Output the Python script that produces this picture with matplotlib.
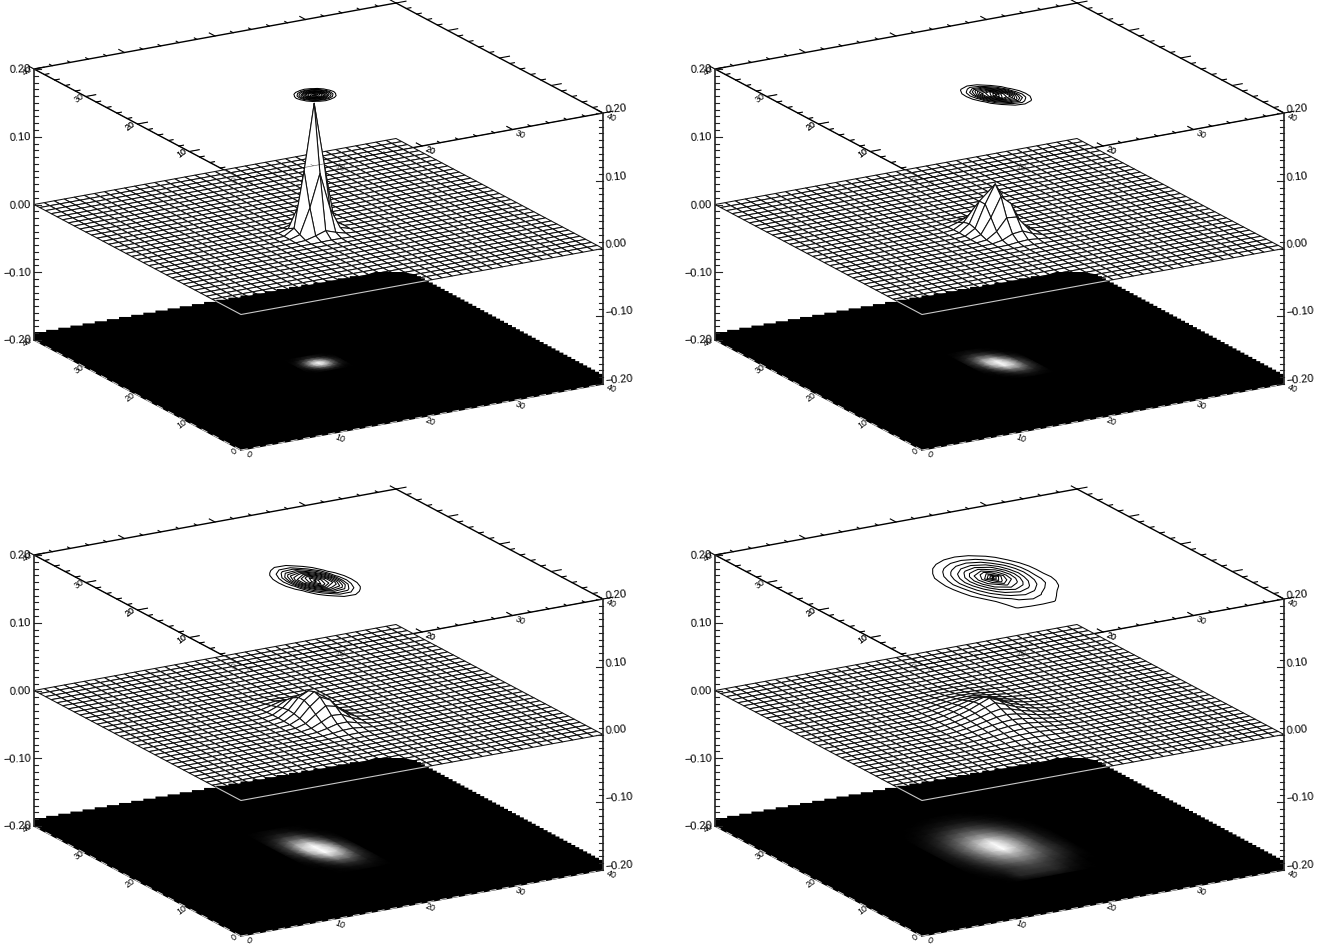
#!/usr/bin/env python3
import numpy as np
import matplotlib
matplotlib.use("Agg")
import matplotlib.pyplot as plt
from matplotlib.collections import PolyCollection
from matplotlib.patches import Polygon

plt.rcParams['font.family'] = ['Liberation Sans', 'DejaVu Sans']

# axis values
z_major = [-0.20, -0.10, 0.00, 0.10, 0.20]
z_major_labels = ['\u22120.20', '\u22120.10', '0.00', '0.10', '0.20']
xy_major = [0, 10, 20, 30, 40]
xy_major_labels = ['0', '10', '20', '30', '40']
contour_levels = [10, 18, 26, 34, 42, 50, 58, 66, 74, 82, 90, 98]
image_vmax = [100, 90, 85, 78]

# surface heights (0.001 units), top row is the largest y, columns go up in x
mesh_p1 = [[0, 0, 0.5, 0.7, 0.5, 0, 0],
           [0, 1, 5, 10, 5, 1, 0],
           [0.5, 5, 36, 96, 40, 5, 0.5],
           [0.7, 10, 92, 189, 96, 10, 0.7],
           [0.5, 5, 42, 90, 36, 5, 0.5],
           [0, 1, 5, 10, 5, 1, 0],
           [0, 0, 0.5, 0.7, 0.5, 0, 0]]

mesh_p2 = [[0.1, 0.4, 0.5, 0.3, 0.1, 0, 0],
           [0.3, 1.7, 3.1, 2.1, 0.5, 0.1, 0],
           [0.8, 5, 11.4, 9.7, 3.1, 0.4, 0],
           [1.3, 9.7, 27.5, 29, 11.4, 1.7, 0.1],
           [1.3, 12.1, 42.8, 56, 27.6, 5, 0.3],
           [0.8, 9.7, 42.8, 70, 42.8, 9.7, 0.8],
           [0.3, 5, 27.6, 56, 42.8, 12.1, 1.3],
           [0.1, 1.7, 11.4, 29, 27.5, 9.7, 1.3],
           [0, 0.4, 3.1, 9.7, 11.4, 5, 0.8],
           [0, 0.1, 0.5, 2.1, 3.1, 1.7, 0.3],
           [0, 0, 0.1, 0.3, 0.5, 0.4, 0.1]]

mesh_p3 = [[0, 0.1, 0.3, 0.5, 0.4, 0.1, 0, 0, 0],
           [0.1, 0.3, 1, 1.5, 1.3, 0.5, 0.1, 0, 0],
           [0.1, 0.7, 2.3, 4, 3.5, 1.7, 0.4, 0.1, 0],
           [0.2, 1.3, 4.7, 8.6, 8.3, 4.3, 1.2, 0.2, 0],
           [0.3, 2, 7.6, 15.3, 16.2, 9.2, 2.7, 0.4, 0],
           [0.3, 2.5, 10.3, 22.5, 26, 16, 5.2, 0.9, 0.1],
           [0.3, 2.6, 11.6, 27.5, 34.6, 23, 8.2, 1.6, 0.2],
           [0.2, 2.2, 10.7, 27.7, 38, 27.7, 10.7, 2.2, 0.2],
           [0.2, 1.6, 8.2, 23, 34.6, 27.5, 11.6, 2.6, 0.3],
           [0.1, 0.9, 5.2, 16, 26, 22.5, 10.3, 2.5, 0.3],
           [0, 0.4, 2.7, 9.2, 16.2, 15.3, 7.6, 2, 0.3],
           [0, 0.2, 1.2, 4.3, 8.3, 8.6, 4.7, 1.3, 0.2],
           [0, 0.1, 0.4, 1.7, 3.5, 4, 2.3, 0.7, 0.1],
           [0, 0, 0.1, 0.5, 1.3, 1.5, 1, 0.3, 0.1],
           [0, 0, 0, 0.1, 0.4, 0.5, 0.3, 0.1, 0]]

mesh_p4 = [[0, 0.1, 0.4, 0.7, 0.9, 1, 0.9, 0.6, 0.3, 0.1, 0],
           [0.1, 0.4, 0.8, 1.4, 1.9, 2, 1.8, 1.3, 0.7, 0.2, 0],
           [0.25, 0.8, 1.6, 2.4, 3.3, 3.6, 3.2, 2.3, 1.3, 0.6, 0.1],
           [0.6, 1.3, 2.5, 4, 5.3, 5.7, 5.2, 3.8, 2.1, 0.9, 0.25],
           [0.8, 2, 3.9, 5.9, 7.6, 8.2, 7.4, 5.5, 3.2, 1.5, 0.5],
           [1.1, 2.7, 5.2, 7.8, 10.3, 11.3, 10, 7.3, 4.3, 2, 0.7],
           [1.5, 3.4, 6.3, 9.7, 13.3, 15.5, 13, 9, 5.4, 2.5, 0.9],
           [1.75, 3.9, 7.2, 11.2, 16.5, 20.5, 16, 10.3, 6.1, 2.9, 1],
           [1.8, 4.1, 7.4, 11.8, 18, 24, 17.5, 10.8, 6.3, 3, 1],
           [1.75, 4, 7.2, 11.4, 17, 21.5, 16.5, 10.4, 6.2, 2.9, 1],
           [1.6, 3.7, 6.6, 10.2, 14.5, 17, 14, 9.4, 5.7, 2.6, 0.9],
           [1.3, 3.1, 5.8, 8.8, 11.8, 13.2, 11.4, 8.1, 5, 2.3, 0.8],
           [1, 2.5, 4.7, 7.2, 9.2, 10.2, 9, 6.7, 4, 1.9, 0.6],
           [0.8, 1.9, 3.6, 5.6, 7.2, 7.8, 7, 5.2, 3, 1.3, 0.5],
           [0.6, 1.3, 2.5, 4.1, 5.3, 5.7, 5.1, 3.7, 2.1, 0.9, 0.25],
           [0.3, 0.9, 1.7, 2.7, 3.6, 3.9, 3.5, 2.5, 1.4, 0.6, 0.1],
           [0.1, 0.5, 1, 1.7, 2.2, 2.4, 2.1, 1.6, 0.8, 0.3, 0]]

# contour / image fields, percent of the peak
field_p1 = [[0, 1, 2, 3, 4, 3, 2, 1, 0],
            [1, 2, 7, 12, 15, 12, 7, 2, 1],
            [2, 7, 19, 35, 43, 35, 19, 7, 2],
            [3, 12, 35, 66, 81, 66, 35, 12, 3],
            [4, 15, 43, 81, 100, 81, 43, 15, 4],
            [3, 12, 35, 66, 81, 66, 35, 12, 3],
            [2, 7, 19, 35, 43, 35, 19, 7, 2],
            [1, 2, 7, 12, 15, 12, 7, 2, 1],
            [0, 1, 2, 3, 4, 3, 2, 1, 0]]

field_p2 = [[0.5, 1.4, 1.9, 1.2, 0.3, 0, 0],
            [1.3, 4.9, 7.9, 5.8, 1.9, 0.3, 0],
            [2.7, 11.9, 23, 20, 8, 1.4, 0.1],
            [3.9, 20, 47, 49, 23, 4.9, 0.5],
            [3.9, 24, 67, 84, 47, 12, 1.3],
            [2.7, 20, 67, 100, 67, 20, 2.7],
            [1.3, 12, 47, 84, 67, 24, 3.9],
            [0.5, 4.9, 23, 49, 47, 20, 3.9],
            [0.1, 1.4, 8, 20, 23, 11.9, 2.7],
            [0, 0.3, 1.9, 5.8, 7.9, 4.9, 1.3],
            [0, 0, 0.3, 1.2, 1.9, 1.4, 0.5]]

field_p3 = [[0.3, 1, 1.7, 1.3, 0.5, 0, 0],
            [0.7, 3, 5.7, 5, 2, 0.3, 0],
            [1.5, 7, 15, 15, 6.4, 1.3, 0.1],
            [2.5, 13, 31, 34, 16, 3.6, 0.4],
            [3.3, 19, 51, 62, 33, 8, 0.9],
            [3.4, 22, 66, 89, 53, 14, 1.8],
            [2.8, 20, 67, 100, 67, 20, 2.8],
            [1.8, 14, 53, 89, 66, 22, 3.4],
            [0.9, 8, 33, 62, 51, 19, 3.3],
            [0.4, 3.6, 16, 34, 31, 13, 2.5],
            [0.1, 1.3, 6.4, 15, 15, 7, 1.5],
            [0, 0.3, 2, 5, 5.7, 3, 0.7],
            [0, 0, 0.5, 1.3, 1.7, 1, 0.3]]

field_p4 = [[0, 0, 0, 0.2, 0.5, 0.7, 0.5, 0.1, 0, 0, 0],
            [0, 0, 0.4, 1.5, 2.5, 3, 2.5, 1.2, 0.2, 0, 0],
            [0, 0.4, 2, 4, 6, 7, 6, 3.5, 1.3, 0, 0],
            [0, 1.5, 4, 8.5, 12.5, 14, 12, 7.5, 3.2, 0.6, 0],
            [0.4, 3, 8, 15, 22, 25, 21, 13.5, 6, 1.8, 0],
            [1, 5, 12, 23, 33, 37, 32, 20, 9.5, 3, 0.3],
            [1.9, 7, 17, 31, 46, 53, 44, 28, 13, 4, 0.5],
            [2.4, 8, 20, 37, 58, 74, 55, 33, 16, 5, 0.7],
            [2.5, 9, 22, 40, 63, 100, 60, 36, 17, 5.5, 0.8],
            [2.4, 8.5, 20, 38, 59, 78, 57, 34, 16, 6, 0.7],
            [2, 7, 18, 33, 50, 59, 48, 30, 16, 7, 0.6],
            [1.5, 5.5, 15, 27, 39, 45, 38, 25, 14, 6, 0.3],
            [0.8, 4, 10.5, 21, 29, 33, 28, 18, 11, 4, 0.1],
            [0.3, 2.7, 7.5, 14, 20, 23, 19, 12.5, 7, 1.6, 0],
            [0, 1.5, 4.3, 13, 16, 17, 15, 9, 3.2, 0.6, 0],
            [0, 0.3, 2.3, 11, 12, 12, 11, 5, 1.8, 0.1, 0],
            [0, 0, 0.7, 2.4, 3.4, 4, 3.4, 2, 0.4, 0, 0]]

# layout in pixels
panel_offsets = [(0, 0), (681, 0), (0, 486), (681, 486)]
origin = np.array([241.0, 450.0])
x_vec = np.array([362.0, -66.0]) / 40.0
y_vec = np.array([-207.0, -110.0]) / 40.0
z_px = 271.0 / 0.4
n_cells = 36
cell = 40.0 / n_cells


def project(x, y, z, off, shift=(0, 0)):
    x = np.asarray(x, dtype=float)
    y = np.asarray(y, dtype=float)
    z = np.asarray(z, dtype=float)
    px = origin[0] + off[0] + shift[0] + x * x_vec[0] + y * y_vec[0]
    py = origin[1] + off[1] + shift[1] + x * x_vec[1] + y * y_vec[1] - (z + 0.2) * z_px
    return px, py


def draw_xy_edge(ax, off, which, fixed, z, tick_sign, lw=1.0, color='k', alpha=1.0, zorder=1):
    t = np.array([0.0, 40.0])
    f = np.full_like(t, fixed)
    px, py = project(t, f, z, off) if which == 'x' else project(f, t, z, off)
    ax.plot(px, py, color=color, lw=lw, alpha=alpha, zorder=zorder, solid_capstyle='round')
    for v in range(0, 41, 2):
        ln = 1.1 if v % 10 == 0 else 0.5
        if which == 'x':
            px, py = project([v, v], [fixed, fixed + tick_sign * ln], z, off)
        else:
            px, py = project([fixed, fixed + tick_sign * ln], [v, v], z, off)
        ax.plot(px, py, color=color, lw=lw * 0.8, alpha=alpha, zorder=zorder)


def draw_xy_labels(ax, off, z, alpha=1.0, zorder=1, only=None):
    for v, lab in zip(xy_major, xy_major_labels):
        if only is None or v in only:
            px, py = project(v, 0, z, off)
            ax.text(px + 8, py + 5, lab, fontsize=6.4, rotation=-22, ha='center', va='center',
                    alpha=alpha, zorder=zorder, clip_on=False)
            px, py = project(0, v, z, off)
            ax.text(px - 7, py + 2, lab, fontsize=6.4, rotation=36, ha='center', va='center',
                    alpha=alpha, zorder=zorder, clip_on=False)


def draw_z_axis(ax, off, x, y, side, rot):
    px0, py0 = project(x, y, -0.2, off)
    px1, py1 = project(x, y, 0.2, off)
    ax.plot([px0, px1], [py0, py1], color='#333333', lw=1.3, zorder=8)
    for k in range(41):
        zv = -0.2 + k * 0.01
        px, py = project(x, y, zv, off)
        ln = 7 if k % 10 == 0 else 4
        ax.plot([px, px + side * ln], [py, py], color='#222222', lw=0.8, zorder=8)
    for zv, lab in zip(z_major, z_major_labels):
        px, py = project(x, y, zv, off)
        if side > 0:
            ax.text(px - 3, py, lab, fontsize=8, rotation=rot, ha='right', va='center',
                    rotation_mode='anchor', zorder=9, clip_on=False)
        else:
            ax.text(px + 2, py - 3, lab, fontsize=8, rotation=rot, ha='left', va='center',
                    rotation_mode='anchor', zorder=9, clip_on=False)


def draw_mesh(ax, off, table, center):
    table = np.asarray(table, dtype=float)[::-1] * 0.001
    nr, nc = table.shape
    h = np.zeros((n_cells + 1, n_cells + 1))
    j0 = center[1] - nr // 2
    i0 = center[0] - nc // 2
    h[j0:j0 + nr, i0:i0 + nc] = table
    idx = np.arange(n_cells + 1) * cell
    xx, yy = np.meshgrid(idx, idx)
    px, py = project(xx, yy, h, off)
    quads = []
    for s in range(2 * n_cells - 2, -1, -1):
        for j in range(n_cells):
            i = s - j
            if 0 <= i < n_cells:
                quads.append([(px[j, i], py[j, i]), (px[j, i + 1], py[j, i + 1]),
                              (px[j + 1, i + 1], py[j + 1, i + 1]), (px[j + 1, i], py[j + 1, i])])
    ax.add_collection(PolyCollection(quads, facecolors='white', edgecolors='#111111',
                                     linewidths=0.75, zorder=3))


def stairs(p0, p1, n):
    xs = np.linspace(p0[0], p1[0], n + 1)
    ys = np.linspace(p0[1], p1[1], n + 1)
    pts = []
    for k in range(n):
        pts.append((xs[k], ys[k]))
        pts.append((xs[k + 1], ys[k]))
    return pts


def floor_outline(off):
    dx, dy = off
    pts = [(241, 450), (34, 340), (34, 332)]
    pts += stairs((34, 332), (362, 274), 27)
    pts += [(375, 272), (402, 272), (413, 274)]
    pts += stairs((413, 274), (603, 376), 48)
    pts += [(603, 384)]
    return [(x + dx, y + dy) for x, y in pts]


def field_grid(field, step, center, z, off, shift=(0, 0)):
    field = np.asarray(field, dtype=float)[::-1]
    nr, nc = field.shape
    xs = center[0] + (np.arange(nc) - nc // 2) * step
    ys = center[1] + (np.arange(nr) - nr // 2) * step
    xx, yy = np.meshgrid(xs, ys)
    px, py = project(xx, yy, np.full(xx.shape, z), off, shift)
    return px, py, field


def draw_panel(ax, off, mesh, mesh_center, field, step, center, vmax):
    # top plane frame behind the surface
    draw_xy_edge(ax, off, 'x', 40, 0.2, 1)
    draw_xy_edge(ax, off, 'y', 40, 0.2, 1)
    draw_xy_edge(ax, off, 'x', 0, 0.2, 1)
    draw_xy_edge(ax, off, 'y', 0, 0.2, 1)
    draw_xy_labels(ax, off, 0.2)

    px, py, f = field_grid(field, step, center, 0.2, off)
    ax.contour(px, py, f, levels=contour_levels, colors='k', linewidths=0.75, zorder=2)

    draw_mesh(ax, off, mesh, mesh_center)

    # frame shows thinly through the surface
    draw_xy_edge(ax, off, 'x', 0, 0.2, 1, lw=0.4, alpha=0.7, zorder=4)
    draw_xy_edge(ax, off, 'y', 0, 0.2, 1, lw=0.4, alpha=0.7, zorder=4)
    draw_xy_labels(ax, off, 0.2, alpha=0.6, zorder=4, only=[0, 10, 20])

    # gray image on the floor
    outline = floor_outline(off)
    floor = Polygon(outline, closed=True, facecolor='black', edgecolor='none', zorder=5)
    ax.add_patch(floor)
    px, py, f = field_grid(field, step, center, -0.2, off, shift=(4, -3))
    ax.pcolormesh(px, py, f, shading='gouraud', cmap='gray', vmin=0, vmax=vmax, zorder=6)

    # z=0 frame over the image
    px, py = project([0, 0, 40], [40, 0, 0], 0.0, off)
    line, = ax.plot(px, py, color='#c8c8c8', lw=0.8, zorder=7)
    line.set_clip_path(floor)

    # front floor edges
    for xe, ye in (([0, 0], [0, 40]), ([0, 40], [0, 0])):
        px, py = project(xe, ye, -0.2, off)
        ax.plot(px, py, color='k', lw=1.0, zorder=7)
        ax.plot(px, py, color='white', lw=0.7, zorder=7, dashes=(7, 6), alpha=0.85)
    draw_xy_labels(ax, off, -0.2, zorder=7)

    draw_z_axis(ax, off, 0, 40, 1, 3)
    draw_z_axis(ax, off, 40, 0, -1, 5)


fig = plt.figure(figsize=(13.32, 9.49), dpi=100)
ax = fig.add_axes([0, 0, 1, 1])
ax.set_xlim(0, 1332)
ax.set_ylim(949, 0)
ax.axis('off')

draw_panel(ax, panel_offsets[0], mesh_p1, (17, 17), field_p1, 0.6, (19.1, 19.1), image_vmax[0])
draw_panel(ax, panel_offsets[1], mesh_p2, (17, 17), field_p2, 1.0, (19.1, 19.1), image_vmax[1])
draw_panel(ax, panel_offsets[2], mesh_p3, (17, 17), field_p3, 1.25, (19.1, 19.1), image_vmax[2])
draw_panel(ax, panel_offsets[3], mesh_p4, (17, 18), field_p4, 1.333, (19.4, 20.2), image_vmax[3])

fig.savefig('out.png', dpi=100)
